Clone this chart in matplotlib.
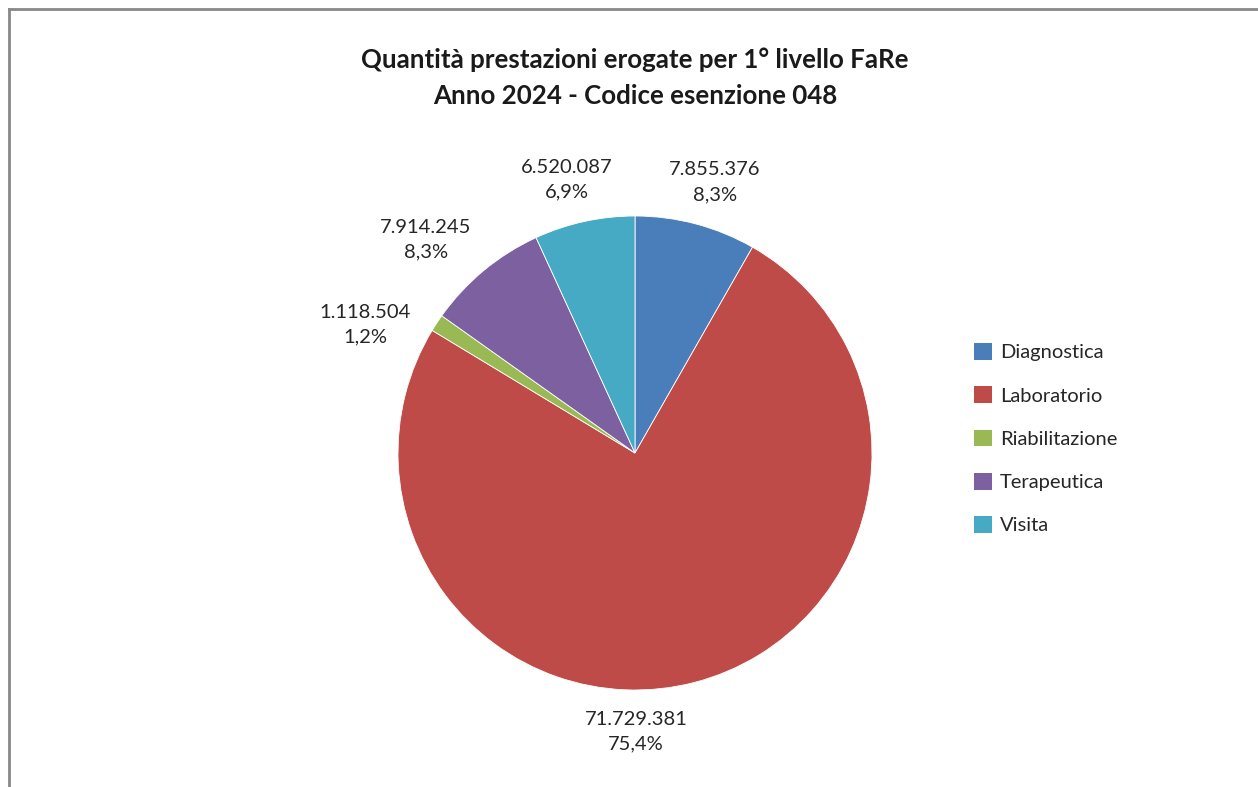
import matplotlib
matplotlib.use("Agg")
import matplotlib.pyplot as plt
from matplotlib.lines import Line2D
from matplotlib.patches import Patch

categories = ["Diagnostica", "Laboratorio", "Riabilitazione", "Terapeutica", "Visita"]
values = [7855376, 71729381, 1118504, 7914245, 6520087]
colors = ["#4A7EBB", "#BE4B48", "#98B954", "#7D60A0", "#46AAC5"]
title_lines = ["Quantità prestazioni erogate per 1° livello FaRe",
               "Anno 2024 - Codice esenzione 048"]

# label positions (data coords, pie radius = 1)
label_pos = [(0.338, 1.143), (0.004, -1.177), (-1.139, 0.540), (-0.882, 0.899), (-0.287, 1.152)]

FONT = ["Lato", "DejaVu Sans"]
plt.rcParams["font.family"] = FONT

W, H = 1258, 787
fig = plt.figure(figsize=(W / 100, H / 100), dpi=100)

def fmt_int(v):
    return f"{v:,}".replace(",", ".")

def fmt_pct(p):
    return f"{p:.1f}%".replace(".", ",")

# border lines (top and left)
fig.add_artist(Line2D([8.5 / W, 8.5 / W], [0, 1 - 9 / H], transform=fig.transFigure,
                      color="#888888", lw=2))
fig.add_artist(Line2D([8.5 / W, 1], [1 - 9 / H, 1 - 9 / H], transform=fig.transFigure,
                      color="#888888", lw=2))

cx, cy, R = 635, 453, 237
half = 300
lim = half / R
ax = fig.add_axes([(cx - half) / W, (H - cy - half) / H, 2 * half / W, 2 * half / H])

wedges, _ = ax.pie(values, colors=colors, startangle=90, counterclock=False, radius=1,
                   wedgeprops=dict(edgecolor="white", linewidth=0.6))
ax.set_xlim(-lim, lim)
ax.set_ylim(-lim, lim)
ax.set_aspect("equal")
ax.axis("off")

total = sum(values)
for v, (x, y) in zip(values, label_pos):
    ax.text(x, y, f"{fmt_int(v)}\n{fmt_pct(100 * v / total)}", ha="center", va="center",
            fontsize=14.5, color="#262626", linespacing=1.55)

for i, line in enumerate(title_lines):
    fig.text(635 / W, 1 - (60 + 36 * i) / H, line, ha="center", va="center",
             fontsize=18.6, fontweight="bold", color="#1a1a1a")

handles = [Patch(facecolor=c, edgecolor="none") for c in colors]
leg = fig.legend(handles, categories, loc="upper left",
                 bbox_to_anchor=(974 / W, 1 - 343 / H), frameon=False,
                 fontsize=14.5, labelspacing=1.24, handlelength=0.9, handleheight=0.9,
                 handletextpad=0.4, borderaxespad=0, borderpad=0)
for t in leg.get_texts():
    t.set_color("#262626")

fig.savefig("out.png", dpi=100, facecolor="white")
